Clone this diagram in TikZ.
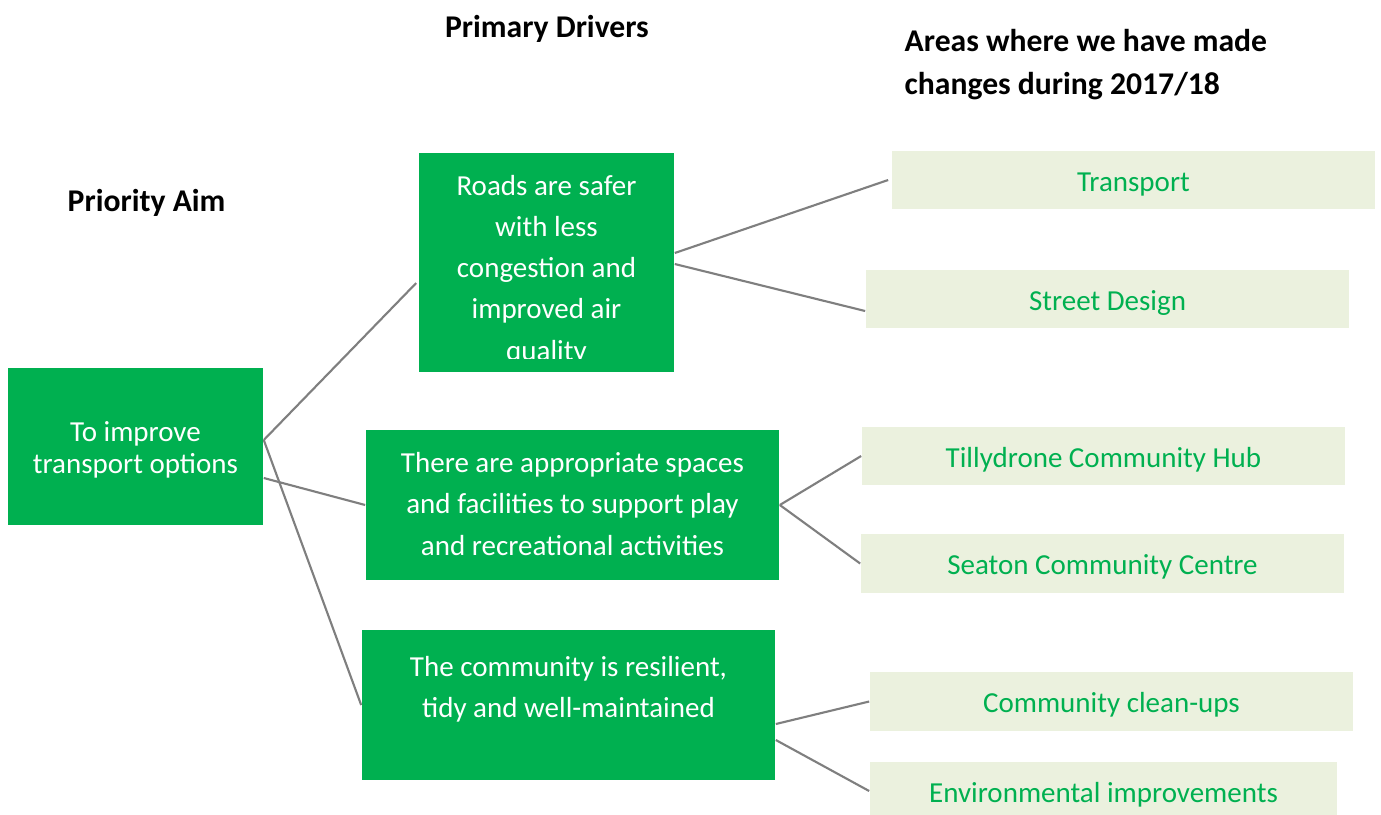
\documentclass[tikz,border=0pt]{standalone}
\usepackage{fontspec}
\setmainfont{Carlito}
\usetikzlibrary{calc}
\definecolor{mygreen}{HTML}{00B050}
\definecolor{mylight}{HTML}{EBF1DE}
\definecolor{myline}{HTML}{7F7F7F}
\begin{document}
\begin{tikzpicture}[x=0.01cm,y=-0.01cm,
  gbox/.style={fill=mygreen,draw=none,inner sep=0pt,rectangle},
  lbox/.style={fill=mylight,draw=none,inner sep=0pt,rectangle,text=mygreen,text height=6.4pt,text depth=0pt,font=\fontsize{8.25}{11.7}\selectfont},
  gtext/.style={text=white,align=center,inner sep=0pt,font=\fontsize{8.25}{11.7}\selectfont},
  head/.style={inner sep=0pt,font=\fontsize{9}{12.2}\selectfont\bfseries},
  conn/.style={draw=myline,line width=0.6pt}]
\clip (0,0) rectangle (1381,814);
\fill[white] (0,0) rectangle (1381,814);
% headings
\node[head,anchor=base] (hdrivers) at (547,37) {Primary Drivers};
\node[head,anchor=base west,align=left] (hareas) at (904,94) {Areas where we have made\\changes during 2017/18};
\node[head,anchor=base west] (haim) at (67,211) {Priority Aim};
% green boxes
\node[gbox,minimum width=2.55cm,minimum height=1.57cm] (aim) at (135.5,446.5) {};
\node[gtext,font=\fontsize{8.25}{9.2}\selectfont] (aimt) at (135.5,450) {To improve\\transport options};
\node[gbox,minimum width=2.55cm,minimum height=2.19cm] (roads) at (546.5,262.5) {};
\begin{scope}
\clip (419,153) rectangle (674,358);
\node[gtext] (roadst) at (546.5,270) {Roads are safer\\with less\\congestion and\\improved air\\quality};
\end{scope}
\node[gbox,minimum width=4.13cm,minimum height=1.50cm] (spaces) at (572.5,505) {};
\node[gtext] (spacest) at (572.5,504) {There are appropriate spaces\\and facilities to support play\\and recreational activities};
\node[gbox,minimum width=4.13cm,minimum height=1.50cm] (community) at (568.5,705) {};
\node[gtext] (communityt) at (568.5,689) {The community is resilient,\\tidy and well-maintained};
% light boxes
\node[lbox,minimum width=4.83cm,minimum height=0.58cm] (transport) at (1133.5,180) {Transport};
\node[lbox,minimum width=4.83cm,minimum height=0.58cm] (street) at (1107.5,299) {Street Design};
\node[lbox,minimum width=4.83cm,minimum height=0.58cm] (tilly) at (1103.5,456) {Tillydrone Community Hub};
\node[lbox,minimum width=4.83cm,minimum height=0.59cm] (seaton) at (1102.5,563.5) {Seaton Community Centre};
\node[lbox,minimum width=4.83cm,minimum height=0.59cm] (cleanups) at (1111.5,701.5) {Community clean-ups};
\node[lbox,minimum width=4.67cm,minimum height=0.58cm] (env) at (1103.5,791) {};
\node[text=mygreen,inner sep=0pt,text height=6.4pt,text depth=0pt,font=\fontsize{8.25}{11.7}\selectfont] (envt) at (1103.5,791) {Environmental improvements};
% connectors
\draw[conn] ($(aim.east)+(0,-6.5)$) -- ($(roads.west)+(-2,20.5)$);
\draw[conn] ($(aim.east)+(0,31.5)$) -- (spaces.west);
\draw[conn] ($(aim.east)+(0,-6.5)$) -- (community.west);
\draw[conn] ($(roads.east)+(0,-9.5)$) -- ($(transport.west)+(-3,0)$);
\draw[conn] ($(roads.east)+(0,1.5)$) -- ($(street.west)+(0,12)$);
\draw[conn] (spaces.east) -- (tilly.west);
\draw[conn] (spaces.east) -- (seaton.west);
\draw[conn] ($(community.east)+(0,19)$) -- (cleanups.west);
\draw[conn] ($(community.east)+(0,35)$) -- (env.west);
\end{tikzpicture}
\end{document}
